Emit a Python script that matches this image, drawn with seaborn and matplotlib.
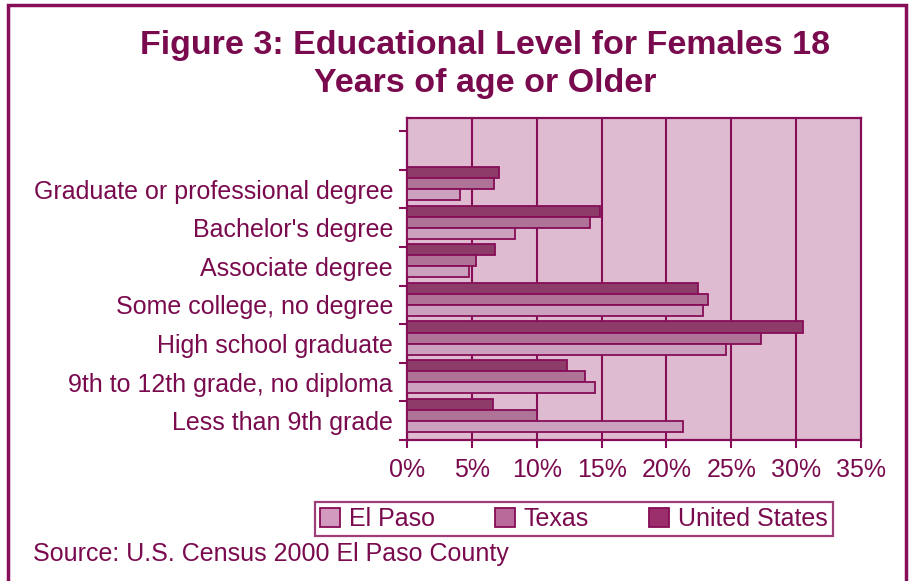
import pandas as pd
import matplotlib.pyplot as plt
import matplotlib.patches as mpatches
from matplotlib.ticker import FixedLocator
import seaborn as sns

# Données (pourcentages)
levels = [
    "Graduate or professional degree",
    "Bachelor's degree",
    "Associate degree",
    "Some college, no degree",
    "High school graduate",
    "9th to 12th grade, no diploma",
    "Less than 9th grade",
]
el_paso = [4.1, 8.3, 4.8, 22.8, 24.6, 14.5, 21.3]
texas = [6.7, 14.1, 5.3, 23.2, 27.3, 13.7, 10.0]
united_states = [7.1, 14.9, 6.8, 22.4, 30.5, 12.3, 6.6]
regions = ["El Paso", "Texas", "United States"]
x_ticks = [0, 5, 10, 15, 20, 25, 30, 35]

TXT = "#7a0a4e"
EDGE = "#860d57"
BG = "#dfbbd1"
colors = {"El Paso": "#d39ac0", "Texas": "#b9699a", "United States": "#9a2f6c"}

df = pd.DataFrame({
    "Niveau": levels * 3,
    "Region": ["El Paso"] * 7 + ["Texas"] * 7 + ["United States"] * 7,
    "Pct": el_paso + texas + united_states,
})

sns.set_style("white")
plt.rcParams["font.family"] = ["Liberation Sans", "DejaVu Sans"]
FS = 18

fig = plt.figure(figsize=(9.2, 5.81), dpi=100)
ax = fig.add_axes([0.4424, 0.2427, 0.4935, 0.5542])

sns.barplot(data=df, y="Niveau", x="Pct", hue="Region", order=levels,
            hue_order=["United States", "Texas", "El Paso"], palette=colors,
            orient="h", width=0.86, edgecolor=EDGE, linewidth=1.3,
            legend=False, ax=ax, zorder=3)

# léger décalage du groupe vers le haut, comme dans l'original
for p in ax.patches:
    p.set_y(p.get_y() - 0.14)

ax.set_facecolor(BG)
ax.set_xlim(0, 35)
ax.set_ylim(6.5, -1.84)
ax.set_xticks(x_ticks)
ax.set_xticklabels([f"{v}%" for v in x_ticks], color=TXT, fontsize=FS)
ax.yaxis.set_major_locator(FixedLocator(range(len(levels))))
ax.set_yticklabels(levels, color=TXT, fontsize=FS)
ax.yaxis.set_minor_locator(FixedLocator([i - 1.5 for i in range(len(levels) + 2)]))
ax.tick_params(axis="y", which="major", length=0, pad=10)
ax.tick_params(axis="y", which="minor", length=6, width=1.5, color=EDGE, direction="out", left=True)
ax.tick_params(axis="x", length=6, width=1.5, color=EDGE, direction="out", pad=7, bottom=True)
ax.set_xlabel("")
ax.set_ylabel("")
for x in x_ticks[1:-1]:
    ax.axvline(x, color=EDGE, lw=1.5, zorder=1)
for s in ax.spines.values():
    s.set_color(EDGE)
    s.set_linewidth(1.6)

fig.text(0.527, 0.921, "Figure 3: Educational Level for Females 18", ha="center", va="center",
         fontsize=24.5, fontweight="bold", color=TXT)
fig.text(0.527, 0.857, "Years of age or Older", ha="center", va="center",
         fontsize=24.5, fontweight="bold", color=TXT)

handles = [mpatches.Patch(facecolor=colors[r], edgecolor=EDGE, linewidth=1.3) for r in regions]
leg = fig.legend(handles, regions, loc="center", bbox_to_anchor=(0.624, 0.107), ncol=3,
                 fontsize=FS, frameon=True, fancybox=False, handlelength=0.8, handleheight=0.8,
                 columnspacing=2.4, handletextpad=0.35, borderpad=0.2, borderaxespad=0)
leg.get_frame().set_edgecolor(EDGE)
leg.get_frame().set_linewidth(1.6)
for t in leg.get_texts():
    t.set_color(TXT)

fig.text(0.036, 0.046, "Source: U.S. Census 2000 El Paso County", ha="left", va="center",
         fontsize=FS, color=TXT)

# cadre autour de la figure
fig.patches.append(mpatches.Rectangle((0.009, -0.05), 0.976, 1.041, transform=fig.transFigure,
                                      fill=False, edgecolor=EDGE, linewidth=2.5))

fig.savefig("out.png", dpi=100)
